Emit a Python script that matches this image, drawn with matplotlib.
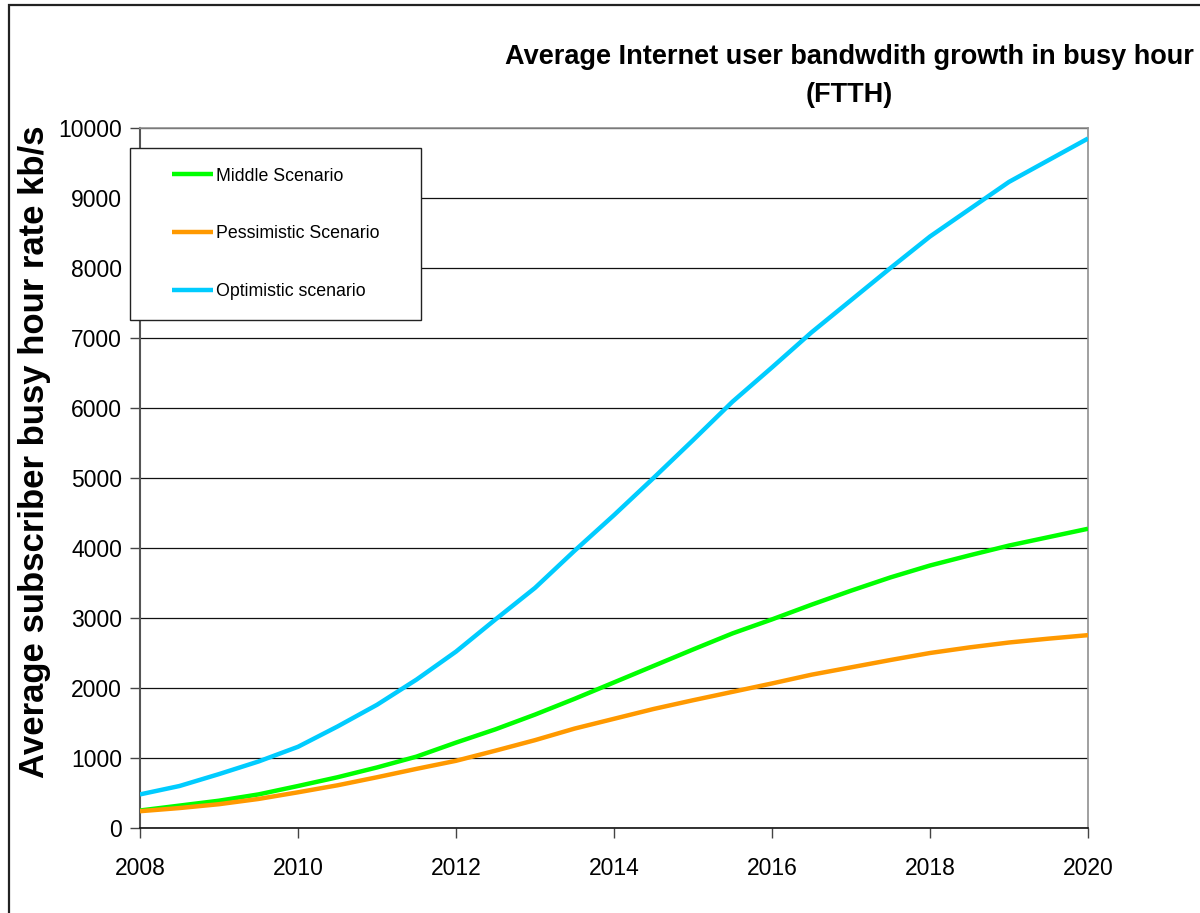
import matplotlib
matplotlib.use("Agg")
import numpy as np
import matplotlib.pyplot as plt
from matplotlib import font_manager
from matplotlib.patches import Rectangle
from matplotlib.legend_handler import HandlerLine2D

years = [2008 + 0.5 * i for i in range(25)]
middle = [250, 320, 390, 480, 600, 725, 865, 1020, 1220, 1410, 1620, 1845, 2080,
          2315, 2550, 2780, 2980, 3190, 3390, 3580, 3750, 3895, 4035, 4155, 4275]
pessimistic = [240, 285, 340, 415, 510, 610, 725, 845, 960, 1105, 1255, 1420, 1560,
               1700, 1825, 1945, 2065, 2190, 2295, 2400, 2500, 2580, 2650, 2705, 2755]
optimistic = [480, 600, 770, 950, 1160, 1450, 1760, 2120, 2520, 2980, 3430, 3960, 4470,
              5000, 5540, 6090, 6580, 7080, 7540, 8000, 8450, 8840, 9230, 9540, 9850]
labels = ["Middle Scenario", "Pessimistic Scenario", "Optimistic scenario"]
colors = ["#00FF00", "#FF9900", "#00CCFF"]
xticks = [2008, 2010, 2012, 2014, 2016, 2018, 2020]
yticks = list(range(0, 10001, 1000))

names = {f.name for f in font_manager.fontManager.ttflist}
narrow = "Liberation Sans Narrow" if "Liberation Sans Narrow" in names else "Liberation Sans"
legsize = 14.5 if narrow == "Liberation Sans Narrow" else 12.8
plt.rcParams['font.family'] = ['Liberation Sans', 'DejaVu Sans']

W, H = 1200, 913
fig = plt.figure(figsize=(W / 100, H / 100), dpi=100)
ax = fig.add_axes([140 / W, 1 - 828 / H, (1088 - 140) / W, (828 - 128) / H])

for vals, lab, c in zip([middle, pessimistic, optimistic], labels, colors):
    ax.plot(years, vals, color=c, lw=3.2, label=lab, solid_capstyle='butt', zorder=3)

ax.set_xlim(2008, 2020)
ax.set_ylim(0, 10000)
ax.set_xticks(xticks)
ax.set_yticks(yticks)
ax.set_xticklabels([str(t) for t in xticks], fontsize=16.5)
ax.set_yticklabels([str(t) for t in yticks], fontsize=16.5)
ax.tick_params(axis='x', length=7, width=1, pad=14, color='#444')
ax.tick_params(axis='y', length=7, width=1, pad=6, color='#444')
ax.grid(axis='y', color='#111', lw=0.9, zorder=1)
ax.set_axisbelow(True)
for s in ['top', 'right']:
    ax.spines[s].set_color('#909090')
    ax.spines[s].set_linewidth(1.2)
ax.spines['left'].set_color('#555')
ax.spines['left'].set_linewidth(1.5)
ax.spines['bottom'].set_color('#111')
ax.spines['bottom'].set_linewidth(1.2)

ax.set_ylabel("Average subscriber busy hour rate kb/s", fontsize=25, fontweight='bold')
ax.yaxis.set_label_coords((51 - 140) / 948, (828 - 451.5) / 700)


class RightLine(HandlerLine2D):
    """Legend line drawn only over the right part of the handle box."""
    seg = 41 * 72 / 100  # points

    def get_xdata(self, legend, xdescent, ydescent, width, height, fontsize):
        x1 = -xdescent + width
        xdata = np.array([x1 - self.seg, x1])
        return xdata, np.array([x1 - self.seg / 2])


fs_px = legsize * 100 / 72
bpad = 1.1
hlen = (213 - 130) / fs_px - bpad
leg = ax.legend(loc='upper left', bbox_to_anchor=(130 / W, 1 - 320 / H, (421 - 130) / W, (320 - 148) / H),
                bbox_transform=fig.transFigure, mode='expand', frameon=True, fancybox=False,
                framealpha=1.0, facecolor='white',
                prop={'family': narrow, 'size': legsize}, handlelength=hlen, handletextpad=0.17,
                labelspacing=2.3, borderpad=bpad, borderaxespad=0,
                handler_map={matplotlib.lines.Line2D: RightLine()})
leg.get_frame().set_edgecolor('#222')
leg.get_frame().set_linewidth(1.0)
leg.set_zorder(5)

fig.text(849 / W, 1 - 76 / H, "Average Internet user bandwdith growth in busy hour\n(FTTH)",
         ha='center', va='center', multialignment='center', fontsize=19.5, fontweight='bold',
         linespacing=1.55)

fig.add_artist(Rectangle((9 / W, -0.2), 1.5, 1.2 - 5 / H, transform=fig.transFigure,
                         fill=False, edgecolor='#222', lw=1.6))

fig.savefig("out.png", dpi=100)
